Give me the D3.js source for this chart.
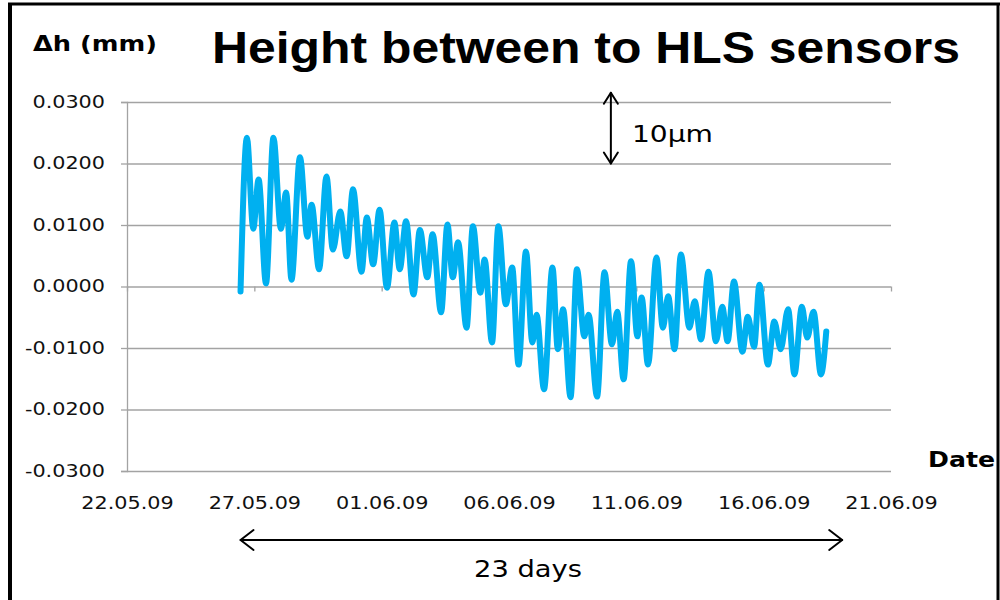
<!DOCTYPE html>
<html>
<head>
<meta charset="utf-8">
<script src="https://cdn.jsdelivr.net/npm/d3@7"></script>
<style>
body { margin: 0; background: #fff; }
svg { display: block; }
</style>
</head>
<body>
<div id="chart"></div>
<script>
// readings (turning points of the trace)
var times = [
	"2009-05-26 11:00","2009-05-26 17:00","2009-05-26 23:00","2009-05-27 04:00","2009-05-27 11:00","2009-05-27 18:00","2009-05-28 01:00","2009-05-28 06:00","2009-05-28 11:00","2009-05-28 19:00",
	"2009-05-29 02:00","2009-05-29 06:00","2009-05-29 13:00","2009-05-29 20:00","2009-05-30 02:00","2009-05-30 09:00","2009-05-30 15:00","2009-05-30 21:00","2009-05-31 05:00","2009-05-31 10:00",
	"2009-05-31 16:00","2009-05-31 22:00","2009-06-01 05:00","2009-06-01 12:00","2009-06-01 17:00","2009-06-01 23:00","2009-06-02 06:00","2009-06-02 12:00","2009-06-02 19:00","2009-06-03 00:00",
	"2009-06-03 08:00","2009-06-03 14:00","2009-06-03 19:00","2009-06-04 00:00","2009-06-04 08:00","2009-06-04 14:00","2009-06-04 21:00","2009-06-05 01:00","2009-06-05 08:00","2009-06-05 14:00",
	"2009-06-05 21:00","2009-06-06 03:00","2009-06-06 09:00","2009-06-06 16:00","2009-06-06 22:00","2009-06-07 02:00","2009-06-07 09:00","2009-06-07 17:00","2009-06-07 22:00","2009-06-08 03:00",
	"2009-06-08 10:00","2009-06-08 16:00","2009-06-08 23:00","2009-06-09 03:00","2009-06-09 11:00","2009-06-09 18:00","2009-06-10 01:00","2009-06-10 06:00","2009-06-10 12:00","2009-06-10 19:00",
	"2009-06-11 01:00","2009-06-11 05:00","2009-06-11 11:00","2009-06-11 19:00","2009-06-12 01:00","2009-06-12 06:00","2009-06-12 12:00","2009-06-12 18:00","2009-06-13 02:00","2009-06-13 07:00",
	"2009-06-13 13:00","2009-06-13 20:00","2009-06-14 03:00","2009-06-14 09:00","2009-06-14 14:00","2009-06-14 20:00","2009-06-15 04:00","2009-06-15 09:00","2009-06-15 15:00","2009-06-15 20:00",
	"2009-06-16 04:00","2009-06-16 10:00","2009-06-16 16:00","2009-06-16 23:00","2009-06-17 05:00","2009-06-17 12:00","2009-06-17 17:00","2009-06-17 23:00","2009-06-18 06:00","2009-06-18 11:00"
];
var heights = [
	-0.0008, 0.0242, 0.0094, 0.0174, 0.0005, 0.0242, 0.0094, 0.0153, 0.0011, 0.0210,
	0.0081, 0.0133, 0.0028, 0.0179, 0.0060, 0.0122, 0.0049, 0.0158, 0.0024, 0.0112,
	0.0036, 0.0125, -0.0002, 0.0104, 0.0028, 0.0106, -0.0013, 0.0092, 0.0015, 0.0085,
	-0.0042, 0.0101, 0.0015, 0.0072, -0.0067, 0.0098, -0.0010, 0.0044, -0.0091, 0.0098,
	-0.0029, 0.0031, -0.0127, 0.0057, -0.0091, -0.0046, -0.0167, 0.0031, -0.0102, -0.0037,
	-0.0180, 0.0028, -0.0081, -0.0046, -0.0179, 0.0023, -0.0094, -0.0041, -0.0151, 0.0041,
	-0.0081, -0.0018, -0.0127, 0.0047, -0.0067, -0.0016, -0.0102, 0.0052, -0.0067, -0.0024,
	-0.0086, 0.0024, -0.0089, -0.0033, -0.0089, 0.0008, -0.0106, -0.0049, -0.0098, 0.0003,
	-0.0127, -0.0057, -0.0102, -0.0037, -0.0143, -0.0033, -0.0083, -0.0041, -0.0143, -0.0073
];
var dateTicks = ["2009-05-22","2009-05-27","2009-06-01","2009-06-06","2009-06-11","2009-06-16","2009-06-21"];
var heightTicks = [-0.03, -0.02, -0.01, 0, 0.01, 0.02, 0.03];

// annotations
var spanDates = ["2009-05-26 11:00", "2009-06-19 02:00"];
var microArrow = { time: "2009-06-10 00:00", from: 0.0200, to: 0.0315 };

var width = 1000, height = 600;
var margin = { left: 127, right: 109, top: 102, bottom: 129 };
var parseTime = d3.timeParse("%Y-%m-%d %H:%M");
var parseDay = d3.timeParse("%Y-%m-%d");
var stretch = 1.22;

var data = times.map(function (t, i) {
	return { t: parseTime(t), v: heights[i] };
});

var svg = d3.select("#chart").append("svg").attr("width", width).attr("height", height);
svg.append("rect").attr("width", width).attr("height", height).attr("fill", "#fff");

var x = d3.scaleTime()
	.domain([parseDay(dateTicks[0]), parseDay(dateTicks[dateTicks.length - 1])])
	.range([margin.left, width - margin.right]);
var y = d3.scaleLinear()
	.domain([-0.03, 0.03])
	.range([height - margin.bottom, margin.top]);

// gridlines
svg.append("g")
	.attr("transform", "translate(" + margin.left + ",0)")
	.call(d3.axisLeft(y).tickValues(heightTicks).tickSize(-(width - margin.left - margin.right)).tickFormat(""))
	.call(function (g) {
		g.select(".domain").remove();
		g.selectAll("line").attr("stroke", "#a3a3a3").attr("stroke-width", 1.3);
	});

// y axis
svg.append("g")
	.attr("transform", "translate(" + margin.left + ",0)")
	.call(d3.axisLeft(y).tickValues(heightTicks).tickSize(6).tickPadding(16)
		.tickFormat(function (d) { return d.toFixed(4); }))
	.call(function (g) {
		g.select(".domain").attr("stroke", "#a3a3a3").attr("stroke-width", 1.3);
		g.selectAll("line").attr("stroke", "#a3a3a3").attr("stroke-width", 1.3);
		g.selectAll("text").attr("class", "st").attr("font-family", "DejaVu Sans, Verdana, sans-serif")
			.attr("font-size", 17).attr("fill", "#111");
	});

// x tick marks sit on the zero line
svg.append("g")
	.attr("transform", "translate(0," + y(0) + ")")
	.call(d3.axisBottom(x).tickValues(dateTicks.map(parseDay)).tickSize(5).tickFormat(""))
	.call(function (g) {
		g.select(".domain").remove();
		g.selectAll("line").attr("stroke", "#a3a3a3").attr("stroke-width", 1.3);
	});

// x labels at the bottom
svg.append("g")
	.attr("transform", "translate(0," + (height - margin.bottom) + ")")
	.call(d3.axisBottom(x).tickValues(dateTicks.map(parseDay)).tickSize(0).tickPadding(26)
		.tickFormat(d3.timeFormat("%d.%m.%y")))
	.call(function (g) {
		g.select(".domain").remove();
		g.selectAll("text").attr("class", "st").attr("font-family", "DejaVu Sans, Verdana, sans-serif")
			.attr("font-size", 17).attr("fill", "#111");
	});

// the trace
var line = d3.line()
	.x(function (d) { return x(d.t); })
	.y(function (d) { return y(d.v); })
	.curve(d3.curveMonotoneX);

svg.append("path")
	.datum(data)
	.attr("d", line)
	.attr("fill", "none")
	.attr("stroke", "#00b0f0")
	.attr("stroke-width", 6)
	.attr("stroke-linejoin", "round")
	.attr("stroke-linecap", "round");

// stretch tick labels like the picture
svg.selectAll("text.st").each(function () {
	var w = this.getComputedTextLength();
	d3.select(this).attr("textLength", w * stretch).attr("lengthAdjust", "spacingAndGlyphs");
});

function label(txt, px, py, size, weight, family, len, anchor) {
	svg.append("text")
		.attr("x", px).attr("y", py)
		.attr("font-size", size)
		.attr("font-weight", weight)
		.attr("font-family", family)
		.attr("text-anchor", anchor || "start")
		.attr("textLength", len)
		.attr("lengthAdjust", "spacingAndGlyphs")
		.attr("fill", "#000")
		.text(txt);
}

label("Height between to HLS sensors", 212, 63, 45, "bold", "Liberation Sans, Arial, sans-serif", 748);
label("\u0394h (mm)", 33, 51, 22, "bold", "DejaVu Sans, Verdana, sans-serif", 124);
label("Date", 928, 467, 22, "bold", "DejaVu Sans, Verdana, sans-serif", 67);
label("10\u00b5m", 632, 142, 23, "normal", "DejaVu Sans, Verdana, sans-serif", 81);

// arrows
var ann = svg.append("g").attr("stroke", "#000").attr("stroke-width", 2).attr("fill", "none")
	.attr("stroke-linecap", "round").attr("stroke-linejoin", "round");

var ax = x(parseTime(microArrow.time)), ay1 = y(microArrow.to), ay2 = y(microArrow.from);
ann.append("line").attr("x1", ax).attr("x2", ax).attr("y1", ay1).attr("y2", ay2);
ann.append("path").attr("d", "M" + (ax - 7) + "," + (ay1 + 11) + "L" + ax + "," + ay1 + "L" + (ax + 7) + "," + (ay1 + 11));
ann.append("path").attr("d", "M" + (ax - 7) + "," + (ay2 - 11) + "L" + ax + "," + ay2 + "L" + (ax + 7) + "," + (ay2 - 11));

var sx1 = x(parseTime(spanDates[0])), sx2 = x(parseTime(spanDates[1])), sy = 540;
ann.append("line").attr("x1", sx1).attr("x2", sx2).attr("y1", sy).attr("y2", sy);
ann.append("path").attr("d", "M" + (sx1 + 13) + "," + (sy - 10) + "L" + sx1 + "," + sy + "L" + (sx1 + 13) + "," + (sy + 10));
ann.append("path").attr("d", "M" + (sx2 - 13) + "," + (sy - 10) + "L" + sx2 + "," + sy + "L" + (sx2 - 13) + "," + (sy + 10));

label("23 days", 474, 577, 23, "normal", "DejaVu Sans, Verdana, sans-serif", 108);

// slide frame
var frame = svg.append("g").attr("stroke", "#000").attr("fill", "none");
frame.append("line").attr("x1", 10).attr("x2", 10).attr("y1", 3).attr("y2", height).attr("stroke-width", 4);
frame.append("line").attr("x1", 8).attr("x2", width).attr("y1", 4).attr("y2", 4).attr("stroke-width", 3);
frame.append("line").attr("x1", 998).attr("x2", 998).attr("y1", 3).attr("y2", height).attr("stroke-width", 3);
</script>
</body>
</html>
